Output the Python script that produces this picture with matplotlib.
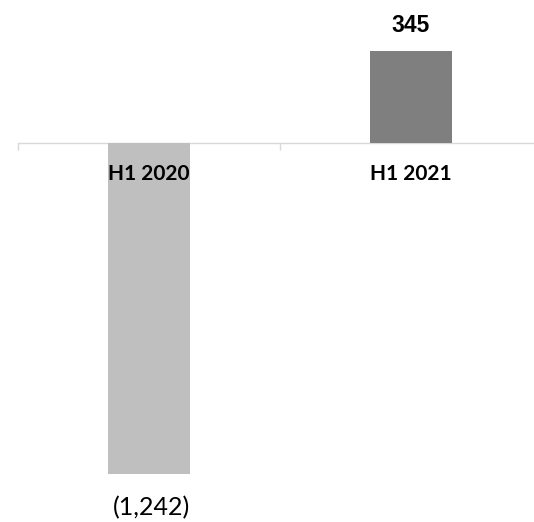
import matplotlib

matplotlib.use("Agg")

import matplotlib.pyplot as plt

categories = ["H1 2020", "H1 2021"]
values = [-1242, 345]
value_labels = ["(1,242)", "345"]
bar_colors = ["#bfbfbf", "#7f7f7f"]

fig = plt.figure(figsize=(5.34, 5.22), dpi=100)
ax = fig.add_axes([18 / 534, 0, 524 / 534, 1])

x = list(range(len(categories)))
ax.bar(x, values, width=0.31, color=bar_colors, zorder=2)

ax.set_xlim(-0.5, len(categories) - 0.5)
ax.set_ylim(-1421, 536)
ax.set_axisbelow(False)  # category names sit on top of the negative bar

for side in ["top", "left", "right"]:
    ax.spines[side].set_visible(False)
ax.spines["bottom"].set_position(("data", 0))
ax.spines["bottom"].set_color("#d9d9d9")
ax.spines["bottom"].set_linewidth(1.0)
ax.spines["bottom"].set_zorder(1)
ax.set_yticks([])

# boundary ticks carry the marks, centre ticks carry the names
ax.set_xticks([i - 0.5 for i in range(len(categories) + 1)])
ax.set_xticklabels([])
ax.tick_params(axis="x", which="major", direction="out", length=5, width=1, color="#d9d9d9")
ax.set_xticks(x, minor=True)
ax.set_xticklabels(categories, minor=True, fontfamily="Lato", fontweight="bold",
                   fontsize=15, color="black")
ax.tick_params(axis="x", which="minor", length=0, pad=15)

for xi, v, lab in zip(x, values, value_labels):
    if v >= 0:
        ax.annotate(lab, (xi, v), xytext=(0, 10), textcoords="offset points",
                    ha="center", va="bottom", fontfamily="Liberation Sans",
                    fontweight="bold", fontsize=16.5, color="black")
    else:
        ax.annotate(lab, (xi + 0.01, v), xytext=(0, -16), textcoords="offset points",
                    ha="center", va="top", fontfamily="Lato", fontsize=18,
                    color="black")

fig.savefig("out.png", dpi=100)
